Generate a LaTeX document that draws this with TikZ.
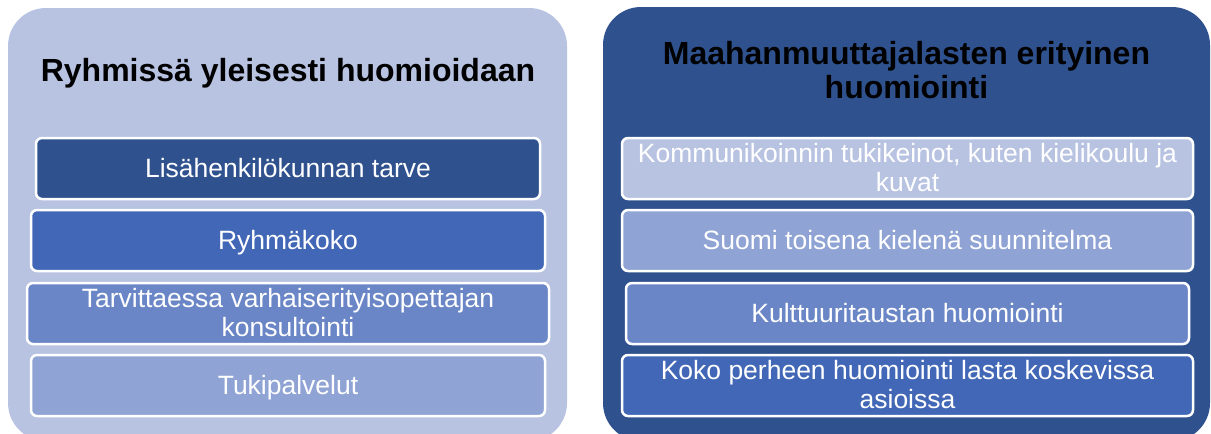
\documentclass[tikz,border=0pt]{standalone}
\usepackage{fontspec}
\setmainfont{Liberation Sans}
\definecolor{cLight}{RGB}{184,195,226}
\definecolor{cDark}{RGB}{47,82,143}
\definecolor{cMed}{RGB}{65,103,182}
\definecolor{cMid}{RGB}{106,134,198}
\definecolor{cSoft}{RGB}{143,163,212}
\newcommand{\bxstrut}{\rule[-0.2em]{0pt}{1.05em}}
\tikzset{
  panel/.style={draw=none, rounded corners=38pt, inner sep=0pt, outer sep=0pt},
  itembox/.style={draw=white, line width=2.5pt, rounded corners=6pt, text=white,
    align=center, inner sep=0pt, minimum height=61pt,
    font=\fontsize{26.5}{28.5}\selectfont},
  titletext/.style={text=black, align=center, inner sep=0pt,
    font=\fontsize{32}{33}\selectfont\bfseries}
}
\begin{document}
\begin{tikzpicture}[x=1pt,y=-1pt]
\useasboundingbox (0,0) rectangle (1211,434);
\clip (0,0) rectangle (1211,434);
% panels
\node[panel, fill=cLight, minimum width=559pt, minimum height=433pt] (lp) at (287.5,224.5) {};
\node[panel, fill=cDark, minimum width=607pt, minimum height=434pt] (rp) at (906.5,224) {};
% titles
\node[titletext] (lt) at (288,71.6) {\bxstrut Ryhmissä yleisesti huomioidaan};
\node[titletext] (rt) at (906.5,71.1) {\bxstrut Maahanmuuttajalasten erityinen\\\bxstrut huomiointi};
% left items
\node[itembox, fill=cDark, minimum width=504pt] (l1) at (288,168.5) {\bxstrut Lisähenkilökunnan tarve};
\node[itembox, fill=cMed, minimum width=514pt] (l2) at (288,240.5) {\bxstrut Ryhmäkoko};
\node[itembox, fill=cMid, minimum width=522pt] (l3) at (288,313.5) {\bxstrut Tarvittaessa varhaiserityisopettajan\\\bxstrut konsultointi};
\node[itembox, fill=cSoft, minimum width=514pt] (l4) at (288,385.5) {\bxstrut Tukipalvelut};
% right items
\node[itembox, fill=cLight, minimum width=571pt] (r1) at (907.5,168.5) {\bxstrut Kommunikoinnin tukikeinot, kuten kielikoulu ja\\\bxstrut kuvat};
\node[itembox, fill=cSoft, minimum width=571pt] (r2) at (907.5,240.5) {\bxstrut Suomi toisena kielenä suunnitelma};
\node[itembox, fill=cMid, minimum width=563pt] (r3) at (907.5,313.5) {\bxstrut Kulttuuritaustan huomiointi};
\node[itembox, fill=cMed, minimum width=571pt] (r4) at (907.5,385.5) {\bxstrut Koko perheen huomiointi lasta koskevissa\\\bxstrut asioissa};
\end{tikzpicture}
\end{document}
